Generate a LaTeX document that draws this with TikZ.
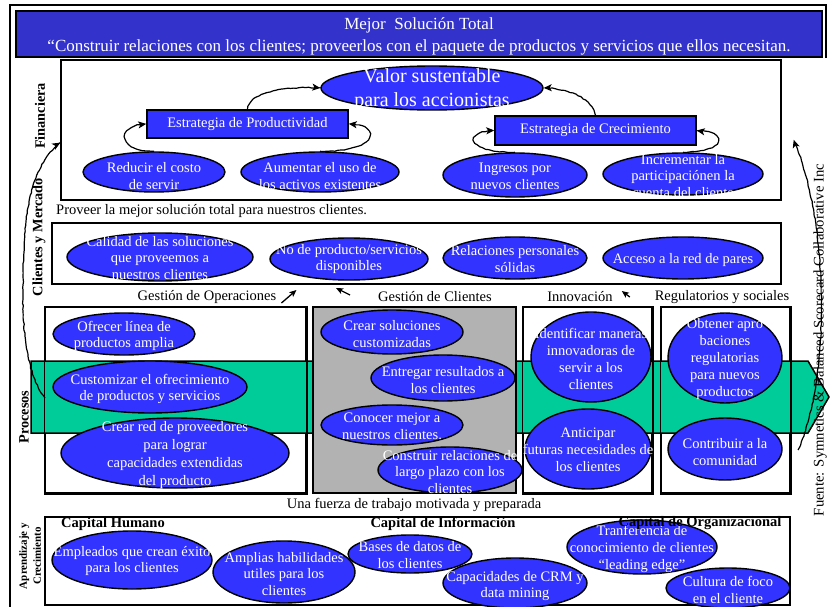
\documentclass[tikz,border=0pt]{standalone}
\usepackage{fontspec}
\setmainfont{Liberation Serif}
\usetikzlibrary{shapes.geometric,arrows.meta,calc,fit,decorations.pathmorphing}

\definecolor{bannerblue}{RGB}{51,51,204}
\definecolor{ovalblue}{RGB}{51,51,255}
\definecolor{bandgreen}{RGB}{0,204,153}
\definecolor{boxgray}{RGB}{178,178,178}

\tikzset{
  panel/.style={draw=black, line width=1.5pt, inner sep=0pt},
  strat/.style={draw=black, line width=1.5pt, fill=ovalblue, text=white, inner sep=0pt,
    font=\fontsize{14.5}{17}\selectfont},
  goal/.style={ellipse, draw=black, line width=1.4pt, fill=ovalblue, inner sep=0pt},
  goaltext/.style={text=white, align=center, inner sep=0pt, font=\fontsize{14.5}{16.8}\selectfont},
  sidelabel/.style={rotate=90, font=\bfseries\fontsize{14.3}{16}\selectfont, inner sep=0pt},
  caption/.style={font=\fontsize{14.5}{16}\selectfont, inner sep=0pt},
  capital/.style={font=\bfseries\fontsize{14.5}{16}\selectfont, inner sep=0pt},
  handarrow/.style={draw=black, line width=1.2pt, -{Stealth[length=8pt,width=7pt,inset=2pt]},
    decorate, decoration={random steps, segment length=3pt, amplitude=0.45pt}},
  tinyarrow/.style={draw=black, line width=1.3pt, -{Stealth[length=7pt,width=6pt,inset=1.5pt]}}
}

% objective: name, ellipse centre, text centre, width, height, text
\newcommand\goalnode[6]{%
  \node[goal, minimum width=#4pt, minimum height=#5pt] (#1) at (#2) {};
  \node[goaltext] (#1-t) at (#3) {#6};
}

\begin{document}
\begin{tikzpicture}[x=1pt,y=-1pt]
\pgfmathsetseed{7}
\useasboundingbox (0,0) rectangle (830,607);

% outer frame and title banner
\draw[line width=1.2pt] (10,607) -- (10,5) -- (826,5) -- (826,58);
\node[panel, line width=1.8pt, fill=bannerblue, fit={(16,11) (822,57)}] (banner) {};
\node[text=white, align=center, inner sep=0pt, font=\fontsize{17}{21.5}\selectfont] (title) at ($(banner.center)+(0,2.5)$)
  {Mejor\ \ Solución Total\\“Construir relaciones con los clientes; proveerlos con el paquete de productos y servicios que ellos necesitan.};

% perspective panels
\node[panel, fit={(61,60) (781,200)}] (fin) {};
\node[panel, fit={(52,223) (781,284)}] (cli) {};
\node[panel, fill=white, fit={(45,307) (306,493)}] (ops) {};
\node[panel, fill=white, fit={(523,307) (652,493)}] (inn) {};
\node[panel, fill=white, fit={(661,307) (790,493)}] (reg) {};
\node[panel, fit={(45,517) (790,605)}] (lrn) {};

% process band
\draw[line width=1.5pt, fill=bandgreen] (31,361) -- (808,361) -- (829,397) -- (808,433) -- (31,433) -- cycle;
\node[panel, fill=boxgray, fit={(313,307) (516,493)}] (gcl) {};
\draw[line width=1.5pt] (ops.south west) rectangle (ops.north east);
\draw[line width=1.5pt] (inn.south west) rectangle (inn.north east);
\draw[line width=1.5pt] (reg.south west) rectangle (reg.north east);

% side labels
\node[sidelabel] (lfin) at (40,116) {Financiera};
\node[sidelabel] (lcli) at (39,237) {Clientes y Mercado};
\node[sidelabel] (lpro) at (24,417) {Procesos};
\node[sidelabel, align=center, font=\bfseries\fontsize{11}{14}\selectfont] (llrn) at (30,556) {Aprendizaje y\\Crecimiento};

% financial perspective
\node[goal, minimum width=222pt, minimum height=44pt] (valor) at (432,88) {};
\node[goaltext, font=\fontsize{20}{24}\selectfont] (valor-t) at (432,90) {Valor sustentable\\para los accionistas};
\node[strat, minimum width=201pt, minimum height=28pt] (prod) at (247.5,124) {Estrategia de Productividad};
\node[strat, minimum width=201pt, minimum height=29pt] (crec) at (595.5,130.5) {Estrategia de Crecimiento};
\goalnode{red}{154,172}{154,176}{142}{40}{Reducir el costo\\de servir}
\goalnode{aum}{320,172}{320,176}{158}{40}{Aumentar el uso de\\los activos existentes}
\goalnode{ing}{515,175}{515,176}{144}{44}{Ingresos por\\nuevos clientes}
\node[goal, minimum width=160pt, minimum height=42pt] (inc) at (683,174) {};
\begin{scope}
  \clip (600,140) rectangle (770,197);
  \node[goaltext] (inc-t) at (683,176) {Incrementar la\\participaciónen la\\cuenta del cliente};
\end{scope}

\draw[handarrow] (prod.north) .. controls (250,92) and (285,86) .. (valor.west);
\draw[handarrow] (crec.north) .. controls (593,100) and (570,88) .. (valor.east);
\draw[handarrow] (red.north) .. controls (115,152) and (118,124) .. (prod.west);
\draw[handarrow] (aum.north) .. controls (382,152) and (380,124) .. (prod.east);
\draw[handarrow] (ing.north) .. controls (462,152) and (466,131) .. (crec.west);
\draw[handarrow] (inc.north) .. controls (728,152) and (728,131) .. (crec.east);

% customer perspective
\node[caption, anchor=west] (prov) at (56,211) {Proveer la mejor solución total para nuestros clientes.};
\goalnode{cal}{160,257}{160,258}{186}{48}{Calidad de las soluciones\\que proveemos a\\nuestros clientes}
\goalnode{nop}{349,259}{349,259}{158}{42}{No de producto/servicios\\disponibles}
\goalnode{rel}{515,258}{515,259}{144}{42}{Relaciones personales\\sólidas}
\goalnode{acc}{683,258}{683,260}{160}{42}{Acceso a la red de pares}

% process headings
\node[caption] (gops) at (207,297) {Gestión de Operaciones};
\node[caption] (gcli) at (435,297) {Gestión de Clientes};
\node[caption] (innov) at (580,297) {Innovación};
\node[caption] (regl) at (722,297) {Regulatorios y sociales};
\draw[tinyarrow] ($(gops.east)+(5,6)$) -- ($(gops.east)+(20,-7)$);
\draw[tinyarrow] ($(gcli.west)+(-28,-2)$) -- ($(gcli.west)+(-42,-9)$);
\draw[tinyarrow] ($(innov.east)+(17,0)$) -- ($(innov.east)+(9,-6)$);

% internal processes
\goalnode{ofr}{124,334}{124,336}{142}{42}{Ofrecer línea de\\productos amplia}
\goalnode{cus}{150,387}{150,389}{194}{52}{Customizar el ofrecimiento\\de productos y servicios}
\node[goal, minimum width=228pt, minimum height=70pt] (crr) at (175,453) {};
\node[goaltext, font=\fontsize{14.5}{17.7}\selectfont] (crr-t) at (175,455) {Crear red de proveedores\\para lograr\\capacidades extendidas\\del producto};
\goalnode{csol}{392,332}{392,334}{142}{44}{Crear soluciones\\customizadas}
\goalnode{ent}{443,378}{443,380}{144}{46}{Entregar resultados a\\los clientes}
\goalnode{con}{392,425}{392,426}{142}{40}{Conocer mejor a\\nuestros clientes.}
\goalnode{cons}{450,470}{450,472}{144}{46}{Construir relaciones de\\largo plazo con los\\clientes}
\goalnode{ide}{591,357}{591,359}{120}{90}{Identificar maneras\\innovadoras de\\servir a los\\clientes}
\goalnode{ant}{588,449}{588,450}{126}{80}{Anticipar\\futuras necesidades de\\los clientes}
\node[goal, minimum width=114pt, minimum height=90pt] (obt) at (725,358) {};
\node[goaltext, font=\fontsize{14.5}{17.2}\selectfont] (obt-t) at (725,359) {Obtener apro\\baciones\\regulatorias\\para nuevos\\productos};
\goalnode{ctb}{725,449}{725,452}{114}{62}{Contribuir a la\\comunidad}

% learning and growth
\node[caption] (fuerza) at (414,505) {Una fuerza de trabajo motivada y preparada};
\goalnode{emp}{132,560}{132,561}{160}{58}{Empleados que crean éxito\\para los clientes}
\goalnode{amp}{284,572}{284,574}{142}{62}{Amplias habilidades\\utiles para los\\clientes}
\goalnode{bas}{410,554}{410,555}{124}{38}{Bases de datos de\\los clientes}
\goalnode{crm}{515,583}{515,586}{144}{50}{Capacidades de CRM y\\data mining}
\goalnode{tra}{642,547}{642,549}{150}{54}{Tranferencia de\\conocimiento de clientes\\“leading edge”}
\goalnode{cul}{728,588}{728,590}{124}{40}{Cultura de foco\\en el cliente}
\node[capital] (caphum) at (113,524) {Capital Humano};
\node[capital] (capinf) at (443,524) {Capital de Información};
\node[capital] (caporg) at (700,523) {Capital de Organizacional};

% source note and cause-effect arrows along the sides
\node[rotate=90, inner sep=0pt, font=\fontsize{14.7}{16}\selectfont] (fuente) at (820,340)
  {Fuente: Symnetics \& Balanced Scorecard Collaborative Inc};
\coordinate (procstart) at (45,398);
\coordinate (srcstart) at (798,450);
\draw[handarrow] (procstart) .. controls (27,375) and (22,330) .. (23,285)
  .. controls (24,220) and (27,170) .. ($(fin.south west)+(0,-58)$);
\draw[handarrow] (srcstart) .. controls (830,380) and (830,225) .. ($(fin.east)+(12,10)$);
\end{tikzpicture}
\end{document}
